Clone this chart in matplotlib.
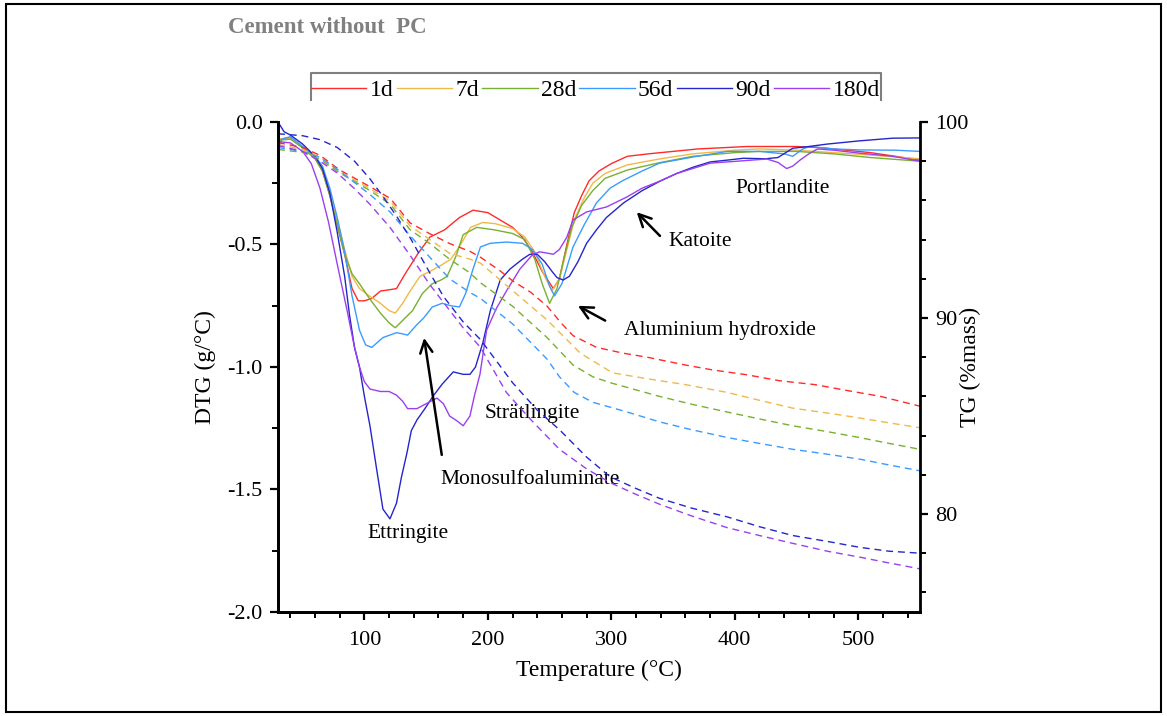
import numpy as np
import matplotlib
matplotlib.use('Agg')
import matplotlib.pyplot as plt
from matplotlib.lines import Line2D
from matplotlib.patches import Rectangle
from matplotlib.ticker import MultipleLocator

plt.rcParams['font.family'] = ['Liberation Serif', 'DejaVu Serif']
plt.rcParams['axes.unicode_minus'] = False

ages = ['1d', '7d', '28d', '56d', '90d', '180d']
colors = ['#FF2A2A', '#F0B848', '#78B030', '#3A9BFF', '#2525CC', '#9B3FEF']

# DTG curves (g/°C), solid
t_1d = [30, 40, 50, 60, 66, 72, 78, 84, 90, 95, 100, 106, 113, 120, 126, 133, 143, 153, 165, 177, 188,
        200, 210, 220, 228, 236, 244, 253, 258, 264, 270, 276, 282, 290, 300, 313, 330, 350, 370, 390,
        410, 430, 450, 470, 490, 510, 530, 550]
dtg_1d = [-0.07, -0.065, -0.105, -0.147, -0.20, -0.30, -0.42, -0.54, -0.68, -0.73, -0.73, -0.72, -0.69,
          -0.685, -0.68, -0.62, -0.54, -0.47, -0.44, -0.39, -0.36, -0.37, -0.40, -0.43, -0.47, -0.53,
          -0.61, -0.68, -0.64, -0.50, -0.37, -0.30, -0.24, -0.20, -0.17, -0.14, -0.13, -0.12, -0.11,
          -0.105, -0.10, -0.10, -0.10, -0.105, -0.115, -0.125, -0.14, -0.155]

t_7d = [30, 40, 50, 60, 66, 72, 78, 84, 90, 96, 104, 113, 120, 125, 131, 137, 145, 153, 162, 170, 178,
        186, 196, 206, 220, 230, 238, 246, 252, 258, 264, 270, 278, 285, 295, 313, 340, 366, 400, 420,
        450, 480, 510, 550]
dtg_7d = [-0.07, -0.065, -0.10, -0.145, -0.19, -0.29, -0.40, -0.52, -0.63, -0.68, -0.71, -0.74, -0.77,
          -0.78, -0.74, -0.69, -0.63, -0.61, -0.585, -0.56, -0.50, -0.43, -0.41, -0.415, -0.435, -0.47,
          -0.53, -0.63, -0.69, -0.64, -0.52, -0.40, -0.31, -0.25, -0.21, -0.175, -0.15, -0.13, -0.115,
          -0.11, -0.115, -0.125, -0.135, -0.15]

t_28d = [30, 40, 50, 60, 66, 72, 78, 84, 90, 96, 104, 113, 120, 125, 131, 139, 147, 155, 162, 167, 174,
         180, 191, 205, 220, 230, 238, 244, 250, 256, 262, 268, 276, 285, 295, 313, 340, 366, 400, 420,
         450, 480, 510, 550]
dtg_28d = [-0.075, -0.07, -0.105, -0.15, -0.20, -0.30, -0.42, -0.54, -0.62, -0.66, -0.72, -0.78, -0.82,
           -0.84, -0.81, -0.77, -0.70, -0.66, -0.645, -0.63, -0.55, -0.46, -0.43, -0.44, -0.455, -0.48,
           -0.56, -0.66, -0.74, -0.68, -0.55, -0.43, -0.34, -0.28, -0.23, -0.196, -0.165, -0.14, -0.125,
           -0.12, -0.12, -0.13, -0.145, -0.16]

t_56d = [30, 33, 40, 50, 60, 66, 72, 78, 84, 90, 96, 101, 106, 115, 126, 131, 135, 142, 148, 155, 163,
         170, 177, 182, 188, 194, 202, 215, 228, 236, 244, 250, 254, 260, 269, 278, 288, 299, 309, 325,
         339, 366, 394, 420, 440, 447, 455, 461, 480, 501, 530, 550]
dtg_56d = [-0.12, -0.07, -0.06, -0.10, -0.14, -0.18, -0.27, -0.39, -0.53, -0.71, -0.85, -0.91, -0.92,
           -0.88, -0.86, -0.865, -0.87, -0.83, -0.80, -0.755, -0.74, -0.75, -0.755, -0.70, -0.60, -0.51,
           -0.495, -0.49, -0.495, -0.52, -0.58, -0.67, -0.71, -0.66, -0.51, -0.42, -0.33, -0.27, -0.24,
           -0.20, -0.168, -0.143, -0.12, -0.12, -0.13, -0.14, -0.11, -0.10, -0.11, -0.114, -0.115, -0.12]

t_90d = [30, 35, 40, 50, 60, 66, 72, 78, 84, 88, 92, 96, 100, 104.5, 110, 115, 120.7, 126, 130, 134.5,
         138, 142.6, 149, 155.5, 163, 172, 180, 185.5, 190, 196, 202, 210, 218, 228, 234, 240, 246, 252,
         256, 261, 266, 273, 280, 288, 296, 310, 325, 340, 353, 366, 380, 395, 407, 425, 435, 447, 460,
         475, 501, 528, 550]
dtg_90d = [0.0, -0.04, -0.053, -0.09, -0.14, -0.19, -0.29, -0.45, -0.63, -0.79, -0.92, -1.00, -1.12,
           -1.24, -1.42, -1.58, -1.62, -1.556, -1.45, -1.35, -1.26, -1.216, -1.17, -1.12, -1.07, -1.02,
           -1.03, -1.03, -1.00, -0.90, -0.77, -0.645, -0.60, -0.56, -0.54, -0.54, -0.57, -0.61, -0.635,
           -0.645, -0.63, -0.57, -0.495, -0.44, -0.39, -0.33, -0.28, -0.24, -0.21, -0.185, -0.163,
           -0.155, -0.148, -0.15, -0.145, -0.107, -0.10, -0.09, -0.077, -0.066, -0.065]

t_180d = [30, 40, 50, 57, 64, 71, 78, 86, 92, 96, 100, 104.5, 113, 120, 126, 131, 135, 142.6, 150, 158.8,
          164, 169, 175, 180, 185.5, 189, 193.6, 199, 207, 215.5, 226, 236.5, 242, 248, 253, 258, 264,
          269, 280, 296, 313, 325, 340, 353, 380, 402, 426, 435, 442, 447, 453, 460, 467, 480, 501, 528,
          550]
dtg_180d = [-0.08, -0.085, -0.12, -0.17, -0.27, -0.41, -0.58, -0.77, -0.92, -1.00, -1.06, -1.09, -1.10,
            -1.10, -1.115, -1.14, -1.17, -1.17, -1.15, -1.127, -1.15, -1.20, -1.22, -1.24, -1.20, -1.12,
            -1.03, -0.85, -0.76, -0.686, -0.60, -0.54, -0.53, -0.535, -0.54, -0.52, -0.47, -0.40, -0.367,
            -0.347, -0.305, -0.27, -0.24, -0.21, -0.168, -0.16, -0.151, -0.165, -0.19, -0.18, -0.155,
            -0.13, -0.11, -0.115, -0.127, -0.14, -0.16]

# TG curves (% mass), dashed
tg_t_1d = [30, 50, 64, 80, 104.5, 121, 137, 153, 169, 185.5, 194, 210, 220, 235, 248, 260, 269, 288, 310,
           329, 360, 382, 410, 436, 465, 491, 518, 550]
tg_1d = [98.95, 98.7, 98.3, 97.55, 96.7, 96.1, 94.85, 94.3, 93.8, 93.4, 93.1, 92.4, 91.9, 91.3, 90.6,
         89.7, 89.1, 88.5, 88.2, 88.0, 87.6, 87.35, 87.1, 86.8, 86.6, 86.3, 86.0, 85.5]

tg_t_7d = [30, 50, 64, 80, 104.5, 121, 137, 153, 169, 185.5, 194, 220, 248, 275, 301, 329, 360, 394, 420,
           447, 475, 501, 525, 550]
tg_7d = [98.85, 98.6, 98.2, 97.45, 96.6, 95.95, 94.7, 94.0, 93.3, 93.0, 92.8, 91.4, 89.9, 88.2, 87.2,
         86.9, 86.6, 86.2, 85.8, 85.4, 85.15, 84.9, 84.65, 84.4]

tg_t_28d = [30, 50, 64, 80, 104.5, 121, 137, 153, 169, 185.5, 194, 220, 248, 269, 285, 299, 339, 365, 394,
            420, 447, 475, 501, 525, 550]
tg_28d = [98.6, 98.45, 98.1, 97.4, 96.5, 95.8, 94.5, 93.8, 93.0, 92.3, 91.8, 90.6, 89.0, 87.6, 87.0,
          86.7, 86.0, 85.6, 85.2, 84.85, 84.5, 84.2, 83.9, 83.6, 83.3]

tg_t_56d = [30, 50, 64, 80, 104.5, 121, 137, 153, 169, 185.5, 194, 220, 248, 258, 270, 285, 313, 339, 365,
            394, 420, 447, 475, 501, 525, 550]
tg_56d = [98.7, 98.5, 98.2, 97.5, 96.3, 95.4, 94.2, 93.1, 92.0, 91.3, 91.0, 89.7, 87.9, 87.0, 86.2,
          85.7, 85.2, 84.7, 84.3, 83.9, 83.6, 83.3, 83.05, 82.8, 82.5, 82.2]

tg_t_90d = [30, 50, 64, 78, 92, 104.5, 115, 126, 137, 153, 164, 180, 194, 207, 220, 240, 258, 280, 299,
            320, 339, 365, 394, 420, 447, 475, 501, 525, 550]
tg_90d = [99.4, 99.3, 99.1, 98.7, 98.0, 97.1, 96.2, 95.2, 94.1, 92.3, 91.1, 89.8, 88.9, 87.8, 86.7,
          85.3, 84.3, 82.9, 81.9, 81.3, 80.8, 80.3, 79.85, 79.35, 78.9, 78.6, 78.3, 78.1, 78.0]

tg_t_180d = [30, 50, 64, 78, 92, 104.5, 121, 137, 153, 164, 180, 194, 215, 235, 258, 280, 299, 320, 339,
             365, 394, 420, 447, 475, 501, 525, 550]
tg_180d = [98.8, 98.5, 98.0, 97.4, 96.6, 95.8, 94.6, 93.2, 91.7, 90.8, 89.5, 88.5, 86.2, 84.8, 83.3,
           82.3, 81.6, 81.0, 80.5, 79.9, 79.3, 78.9, 78.5, 78.1, 77.8, 77.5, 77.2]

dtg_t = [t_1d, t_7d, t_28d, t_56d, t_90d, t_180d]
dtg_v = [dtg_1d, dtg_7d, dtg_28d, dtg_56d, dtg_90d, dtg_180d]
tg_t = [tg_t_1d, tg_t_7d, tg_t_28d, tg_t_56d, tg_t_90d, tg_t_180d]
tg_v = [tg_1d, tg_7d, tg_28d, tg_56d, tg_90d, tg_180d]

fig = plt.figure(figsize=(11.67, 7.16), dpi=100)
ax = fig.add_axes([0.2382, 0.1453, 0.5501, 0.6843])
ax2 = ax.twinx()

for i in range(len(ages)):
    ax.plot(dtg_t[i], dtg_v[i], color=colors[i], lw=1.0, label=ages[i])
    ax2.plot(tg_t[i], tg_v[i], color=colors[i], lw=1.0, ls=(0, (5, 3.5)))

ax.set_xlim(30, 550)
ax.set_ylim(-2.0, 0.0)
ax2.set_ylim(75, 100)

ax.xaxis.set_major_locator(MultipleLocator(100))
ax.xaxis.set_minor_locator(MultipleLocator(20))
ax.yaxis.set_major_locator(MultipleLocator(0.5))
ax.yaxis.set_minor_locator(MultipleLocator(0.25))
ax2.yaxis.set_major_locator(MultipleLocator(10))
ax2.yaxis.set_minor_locator(MultipleLocator(2))
ax.yaxis.set_major_formatter(matplotlib.ticker.FormatStrFormatter('%.1f'))

for a in (ax, ax2):
    a.spines['top'].set_visible(False)
    for s in ('left', 'right', 'bottom'):
        a.spines[s].set_linewidth(2.0)
    a.tick_params(which='major', length=6, width=1.6, labelsize=16, direction='out', pad=5)
    a.tick_params(which='minor', length=4, width=1.4, direction='out')
ax.tick_params(axis='x', which='major', pad=8)
ax.spines['right'].set_visible(False)

ax.set_xlabel('Temperature (°C)', fontsize=17, labelpad=7)
ax.set_ylabel('DTG (g/°C)', fontsize=17, labelpad=8)
ax2.set_ylabel('TG (%mass)', fontsize=17, labelpad=-6)

# annotations
txt = dict(fontsize=15.5, ha='center', va='center')
ax.text(135, -1.68, 'Ettringite', **txt)
ax.text(236, -1.19, 'Strätlingite', **txt)
ax.text(234, -1.46, 'Monosulfoaluminate', **txt)
ax.annotate('', xy=(148, -0.87), xytext=(163, -1.37),
            arrowprops=dict(arrowstyle='->', lw=1.8, color='black', mutation_scale=22))
ax.text(388, -0.85, 'Aluminium hydroxide', **txt)
ax.annotate('', xy=(271, -0.745), xytext=(297, -0.816),
            arrowprops=dict(arrowstyle='->', lw=1.8, color='black', mutation_scale=22))
ax.text(372, -0.486, 'Katoite', **txt)
ax.annotate('', xy=(319, -0.36), xytext=(341, -0.473),
            arrowprops=dict(arrowstyle='->', lw=1.8, color='black', mutation_scale=22))
ax.text(439, -0.27, 'Portlandite', **txt)

fig.text(0.195, 0.961, 'Cement without  PC', fontsize=16.5, fontweight='bold', color='#808080',
         ha='left', va='center')

# legend with open-bottom frame
handles = [Line2D([], [], color=c, lw=1.0) for c in colors]
fig.legend(handles, ages, loc='center left', bbox_to_anchor=(0.2665, 0.874), ncol=6, frameon=False,
           fontsize=17, handlelength=2.35, handletextpad=0.135, columnspacing=0.135, borderpad=0,
           borderaxespad=0)
fig.add_artist(Line2D([0.2665, 0.2665, 0.755, 0.755], [0.860, 0.898, 0.898, 0.860],
                      transform=fig.transFigure, color='#7F7F7F', lw=1.5))

fig.add_artist(Rectangle((0.005, 0.006), 0.99, 0.988, transform=fig.transFigure, fill=False,
                         edgecolor='black', lw=1.5))

fig.savefig('out.png', dpi=100)
